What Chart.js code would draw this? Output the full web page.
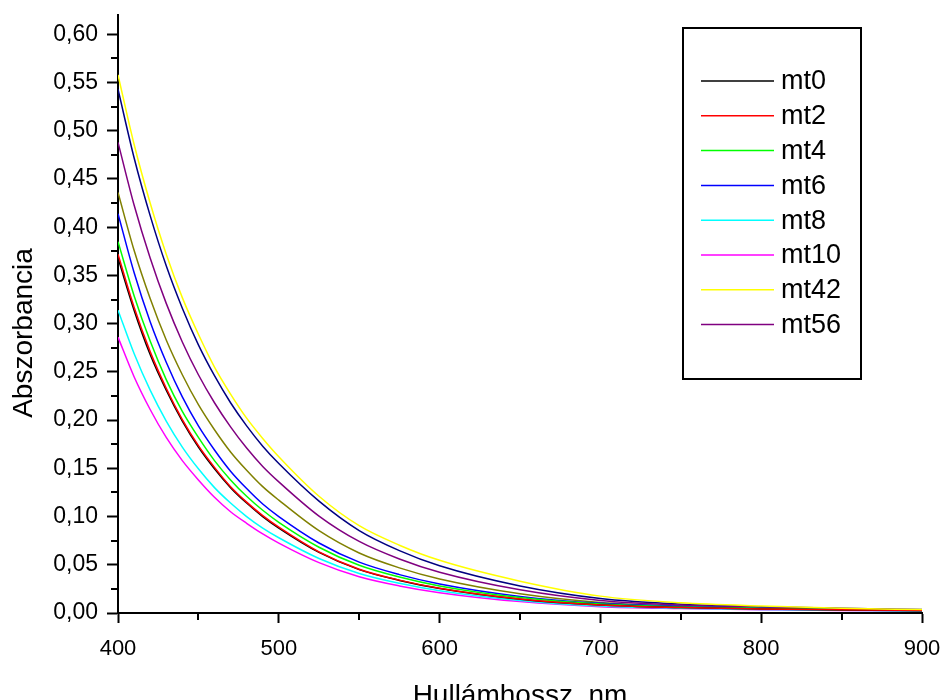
<!DOCTYPE html>
<html>
<head>
<meta charset="utf-8">
<script src="https://cdn.jsdelivr.net/npm/chart.js@4/dist/chart.umd.min.js"></script>
<style>
html,body{margin:0;padding:0;background:#fff;}
#wrap{width:944px;height:700px;position:relative;}
</style>
</head>
<body>
<div id="wrap"><canvas id="c" width="944" height="700"></canvas></div>
<script>
// Wavelength (nm) sample positions
const wavelengths = [400,410,420,430,440,450,460,470,480,490,500,525,550,575,600,650,700,750,800,850,900];

// Absorbance values
const mt0  = [0.368,0.314,0.268,0.231,0.199,0.172,0.1495,0.130,0.114,0.100,0.088,0.0628,0.045,0.0338,0.0254,0.0143,0.0082,0.0056,0.0041,0.0032,0.0024];
const mt2  = [0.372,0.317,0.271,0.233,0.2005,0.1735,0.151,0.131,0.115,0.101,0.089,0.0634,0.0454,0.0341,0.0257,0.0145,0.0083,0.0057,0.0042,0.0033,0.0025];
const mt4  = [0.385,0.329,0.282,0.242,0.209,0.182,0.158,0.138,0.121,0.1065,0.094,0.0682,0.0495,0.0373,0.0281,0.016,0.0093,0.0063,0.0047,0.0037,0.0028];
const mt6  = [0.414,0.353,0.302,0.260,0.224,0.194,0.169,0.147,0.129,0.113,0.100,0.0726,0.0527,0.0398,0.0301,0.0172,0.0100,0.0068,0.005,0.004,0.003];
const mt8  = [0.314,0.269,0.231,0.199,0.172,0.1495,0.130,0.114,0.100,0.088,0.078,0.0565,0.041,0.0308,0.0231,0.013,0.0072,0.005,0.0036,0.0028,0.002];
const mt10 = [0.286,0.245,0.211,0.182,0.158,0.138,0.120,0.105,0.093,0.082,0.0725,0.0522,0.0376,0.0281,0.0211,0.0118,0.0066,0.0046,0.0034,0.0027,0.002];
const mt42 = [0.558,0.486,0.425,0.372,0.327,0.289,0.255,0.227,0.202,0.181,0.162,0.121,0.0905,0.0703,0.0546,0.033,0.0175,0.0105,0.0072,0.005,0.0035];
const mt56 = [0.488,0.423,0.368,0.321,0.281,0.247,0.218,0.193,0.171,0.152,0.136,0.1005,0.0742,0.056,0.0422,0.024,0.013,0.0082,0.006,0.0045,0.0033];
// two further curves drawn in the plot but not listed in the legend
const extraNavy  = [0.543,0.472,0.412,0.360,0.316,0.278,0.246,0.218,0.194,0.173,0.155,0.116,0.0855,0.0647,0.0489,0.028,0.015,0.0092,0.0066,0.0048,0.0035];
const extraOlive = [0.436,0.376,0.326,0.283,0.247,0.216,0.190,0.167,0.148,0.131,0.117,0.0853,0.0622,0.0468,0.0353,0.020,0.011,0.0072,0.0052,0.004,0.003];

// Axis tick settings
const xTickStep = 100;
const yTickStep = 0.05;
const legendLabels = ['mt0','mt2','mt4','mt6','mt8','mt10','mt42','mt56'];
const yTitle = 'Abszorbancia';
const xTitle = 'Hullámhossz, nm';

const FONT = '"Liberation Sans", Arial, Helvetica, sans-serif';

function pts(arr){ return wavelengths.map((x,i)=>({x:x, y:arr[i]})); }
function ds(label, arr, color, order){
  return {label:label, data:pts(arr), borderColor:color, backgroundColor:color,
    borderWidth:1.5, pointRadius:0, fill:false, cubicInterpolationMode:'monotone', order:order};
}

const datasets = [
  ds('mt0', mt0, '#000000', 3),
  ds('mt2', mt2, '#FF0000', 2),
  ds('mt4', mt4, '#00FF00', 4),
  ds('mt6', mt6, '#0000FF', 5),
  ds('mt8', mt8, '#00FFFF', 6),
  ds('mt10', mt10, '#FF00FF', 7),
  ds('mt42', mt42, '#FFFF00', 1),
  ds('mt56', mt56, '#800080', 8),
  ds('navy', extraNavy, '#000080', 9),
  ds('olive', extraOlive, '#808000', 10)
];

const minorTicks = {
  id:'minorTicks',
  afterDraw(chart){
    const ctx = chart.ctx, xs = chart.scales.x, ys = chart.scales.y;
    ctx.save();
    ctx.strokeStyle = '#000'; ctx.lineWidth = 2;
    ctx.beginPath();
    for (let v = xs.min + xTickStep/2; v < xs.max; v += xTickStep){
      const px = Math.round(xs.getPixelForValue(v));
      ctx.moveTo(px, ys.bottom); ctx.lineTo(px, ys.bottom + 7);
    }
    for (let v = yTickStep/2; v < ys.max; v += yTickStep){
      const py = Math.round(ys.getPixelForValue(v));
      ctx.moveTo(xs.left, py); ctx.lineTo(xs.left - 7, py);
    }
    ctx.stroke();
    ctx.restore();
  }
};

// vertical axis title, placed a little below the axis centre as in the reference
const yAxisTitle = {
  id:'yAxisTitle',
  afterDraw(chart){
    const ctx = chart.ctx, a = chart.chartArea;
    ctx.save();
    ctx.translate(24, (a.top + a.bottom) / 2 + 19);
    ctx.rotate(-Math.PI / 2);
    ctx.font = '28px ' + FONT;
    ctx.fillStyle = '#000';
    ctx.textAlign = 'center'; ctx.textBaseline = 'middle';
    ctx.fillText(yTitle, 0, 0);
    ctx.restore();
  }
};

const boxLegend = {
  id:'boxLegend',
  afterDraw(chart){
    const ctx = chart.ctx, a = chart.chartArea;
    const left = a.right - 239, top = a.top + 13, w = 178, h = 351;
    ctx.save();
    ctx.strokeStyle = '#000'; ctx.lineWidth = 2;
    ctx.strokeRect(left, top, w, h);
    ctx.font = '27px ' + FONT;
    ctx.textBaseline = 'middle'; ctx.textAlign = 'left';
    legendLabels.forEach((lab, i) => {
      const d = chart.data.datasets.find(s => s.label === lab);
      const y = top + 53 + i * 34.8;
      ctx.strokeStyle = d.borderColor; ctx.lineWidth = 1.5;
      ctx.beginPath(); ctx.moveTo(left + 18, y); ctx.lineTo(left + 91, y); ctx.stroke();
      ctx.fillStyle = '#000';
      ctx.fillText(lab, left + 98, y + 1);
    });
    ctx.restore();
  }
};

new Chart(document.getElementById('c'), {
  type:'line',
  data:{datasets:datasets},
  plugins:[minorTicks, yAxisTitle, boxLegend],
  options:{
    responsive:false,
    animation:false,
    devicePixelRatio:1,
    layout:{padding:{left:0, right:22, top:15, bottom:0}},
    plugins:{legend:{display:false}, tooltip:{enabled:false}},
    scales:{
      x:{
        type:'linear', position:'bottom', min:400, max:900,
        ticks:{stepSize:xTickStep, color:'#000', font:{family:FONT, size:22}, padding:13, maxRotation:0},
        grid:{drawOnChartArea:false, drawTicks:true, tickLength:10, tickWidth:2, tickColor:'#000'},
        border:{display:true, color:'#000', width:2},
        title:{display:true, text:xTitle, color:'#000', font:{family:FONT, size:28, lineHeight:1}, padding:{top:0, bottom:-10}},
        afterFit(s){ s.height = 87; s.paddingLeft = 0; s.paddingRight = 0; }
      },
      y:{
        type:'linear', position:'left', min:0, max:0.62,
        ticks:{stepSize:yTickStep, includeBounds:false, color:'#000', font:{family:FONT, size:23}, padding:9,
          callback:(v)=> (Math.round(v*100)/100).toFixed(2).replace('.', ',')},
        grid:{drawOnChartArea:false, drawTicks:true, tickLength:11, tickWidth:2, tickColor:'#000'},
        border:{display:true, color:'#000', width:2},
        title:{display:false},
        afterFit(s){ s.width = 118; s.paddingTop = 0; s.paddingBottom = 0; }
      }
    }
  }
});
</script>
</body>
</html>
